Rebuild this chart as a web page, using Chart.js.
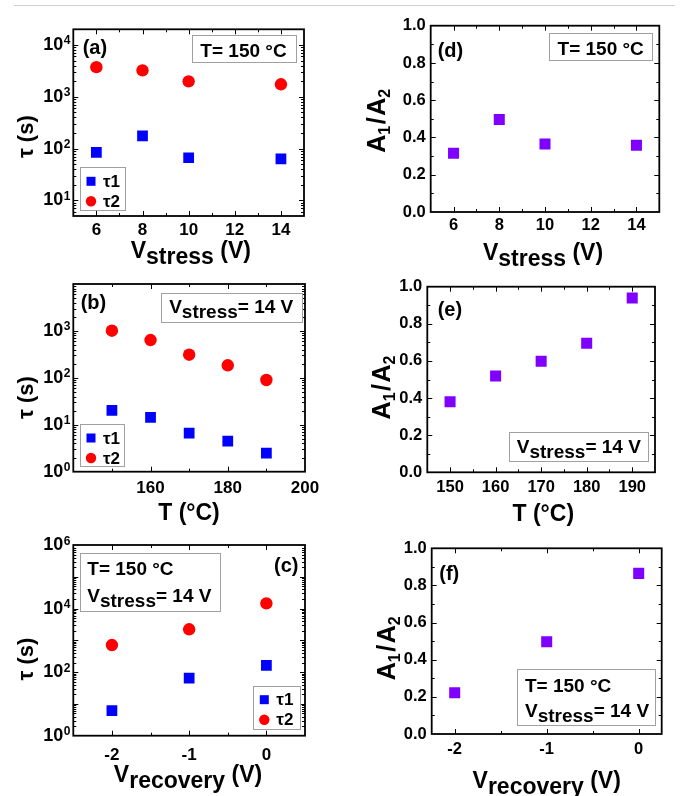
<!DOCTYPE html>
<html>
<head>
<meta charset="utf-8">
<script src="https://cdn.jsdelivr.net/npm/chart.js@4.4.1/dist/chart.umd.min.js"></script>
<style>
html,body{margin:0;padding:0;background:#fff;}
#wrap{position:relative;width:681px;height:796px;overflow:hidden;background:#fff;}
#wrap canvas{position:absolute;left:0;top:0;}
#rule{position:absolute;left:14px;top:5px;width:661px;height:0;border-top:1.5px solid #cfcfcf;}
</style>
</head>
<body>
<div id="wrap">
<div id="rule"></div>
<canvas id="pa" width="681" height="796"></canvas>
<canvas id="pb" width="681" height="796"></canvas>
<canvas id="pc" width="681" height="796"></canvas>
<canvas id="pd" width="681" height="796"></canvas>
<canvas id="pe" width="681" height="796"></canvas>
<canvas id="pf" width="681" height="796"></canvas>
</div>
<script>
// ---------- data ----------
const vStress = [6, 8, 10, 14];
const tau1VsStress = [84, 175, 66.5, 63];
const tau2VsStress = [3720, 3220, 1980, 1740];
const ratioVsStress = [0.315, 0.497, 0.365, 0.358];

const tempC = [150, 160, 170, 180, 190];
const tau1VsTemp = [20.3, 14.4, 6.6, 4.5, 2.5];
const tau2VsTemp = [1010, 640, 311, 185, 90];
const ratioVsTemp = [0.38, 0.519, 0.598, 0.695, 0.939];

const vRecovery = [-2, -1, 0];
const tau1VsRec = [6.1, 65, 164];
const tau2VsRec = [713, 2225, 14600];
const ratioVsRec = [0.222, 0.497, 0.865];

// ---------- tick labels ----------
const stressTicks = [6, 8, 10, 12, 14];
const tempTicksTau = [160, 180, 200];
const tempTicksRatio = [150, 160, 170, 180, 190];
const recTicks = [-2, -1, 0];
const ratioTicks = [0, 0.2, 0.4, 0.6, 0.8, 1.0];
const tauTicksA = [10, 100, 1000, 10000];
const tauTicksB = [1, 10, 100, 1000];
const tauTicksC = [1, 100, 10000, 1000000];

const seriesLabels = ['τ1', 'τ2'];

// ---------- style ----------
const FONT = "'Liberation Sans', Arial, Helvetica, sans-serif";
const BLUE = '#0000ff', RED = '#ff0000', PURPLE = '#8000ff';
const W = 681, H = 796, YW = 45, XH = 30;

function steps(a, b, s) { const r = []; for (let v = a; v <= b + 1e-9; v += s) r.push(+v.toFixed(6)); return r; }
function logMajors(lo, hi) { const r = []; for (let e = lo; e <= hi; e++) r.push(Math.pow(10, e)); return r; }
function logMinors(lo, hi) { const r = []; for (let e = lo; e < hi; e++) for (let m = 2; m <= 9; m++) r.push(m * Math.pow(10, e)); return r; }
function pts(xs, ys) { return xs.map((x, i) => ({ x, y: ys[i] })); }

function rich(ctx, parts, x, y, align) {
  let w = 0;
  const m = parts.map(p => { ctx.font = 'bold ' + p[1] + 'px ' + FONT; const pw = ctx.measureText(p[0]).width; const g = p[3] || 0; w += pw + g; return { pw, g }; });
  let cx = align === 'center' ? x - w / 2 : x;
  ctx.textAlign = 'left'; ctx.textBaseline = 'alphabetic'; ctx.fillStyle = '#000';
  parts.forEach((p, i) => { cx += m[i].g; ctx.font = 'bold ' + p[1] + 'px ' + FONT; ctx.fillText(p[0], cx, y + (p[2] || 0)); cx += m[i].pw; });
}

function makeDeco(o) {
  return {
    id: 'deco',
    beforeDatasetsDraw(chart) {
      const ctx = chart.ctx, a = chart.chartArea, xs = chart.scales.x, ys = chart.scales.y;
      ctx.save();
      ctx.strokeStyle = '#000'; ctx.lineWidth = 1;
      ctx.beginPath();
      const xt = (vals, len) => vals.forEach(v => {
        const p = Math.round(xs.getPixelForValue(v)) + 0.5;
        if (p <= a.left + 1.5 || p >= a.right - 1.5) return;
        ctx.moveTo(p, a.bottom); ctx.lineTo(p, a.bottom - len);
        ctx.moveTo(p, a.top); ctx.lineTo(p, a.top + len);
      });
      const yt = (vals, len) => vals.forEach(v => {
        const p = Math.round(ys.getPixelForValue(v)) + 0.5;
        if (p <= a.top + 1.5 || p >= a.bottom - 1.5) return;
        ctx.moveTo(a.left, p); ctx.lineTo(a.left + len, p);
        ctx.moveTo(a.right, p); ctx.lineTo(a.right - len, p);
      });
      xt(o.ticks.xMajor, 5); xt(o.ticks.xMinor, 3);
      yt(o.ticks.yMajor, 5); yt(o.ticks.yMinor, 3);
      ctx.stroke();
      ctx.lineWidth = 1.8;
      ctx.strokeRect(a.left, a.top, a.right - a.left, a.bottom - a.top);
      ctx.restore();
    },
    afterDraw(chart) {
      const ctx = chart.ctx, a = chart.chartArea, ys = chart.scales.y;
      ctx.save();
      if (o.logY) {
        ctx.font = 'bold 12px ' + FONT; ctx.fillStyle = '#000';
        ctx.textAlign = 'left'; ctx.textBaseline = 'alphabetic';
        ys.ticks.forEach(t => {
          const y = ys.getPixelForValue(t.value);
          ctx.fillText(String(Math.round(Math.log10(t.value))), a.left - 9.5, y - 0.5);
        });
      }
      rich(ctx, o.xTitle.parts, o.xTitle.cx, o.xTitle.by, 'center');
      ctx.save();
      ctx.translate(o.yTitle.bx, o.yTitle.cy);
      ctx.rotate(-Math.PI / 2);
      rich(ctx, o.yTitle.parts, 0, 0, 'center');
      ctx.restore();
      ctx.font = 'bold 20px ' + FONT; ctx.fillStyle = '#000';
      ctx.textAlign = 'left'; ctx.textBaseline = 'middle';
      ctx.fillText(o.tag.text, o.tag.x, o.tag.y);
      o.boxes.forEach(b => {
        ctx.fillStyle = '#fff';
        ctx.fillRect(b.rect[0], b.rect[1], b.rect[2], b.rect[3]);
        ctx.strokeStyle = '#a0a0a0'; ctx.lineWidth = 1;
        ctx.strokeRect(Math.round(b.rect[0]) + 0.5, Math.round(b.rect[1]) + 0.5, Math.round(b.rect[2]), Math.round(b.rect[3]));
        b.lines.forEach(l => rich(ctx, l.parts, l.x, l.y, l.align));
      });
      if (o.legend) {
        const r = o.legend.rect;
        ctx.fillStyle = '#fff'; ctx.fillRect(r[0], r[1], r[2], r[3]);
        ctx.strokeStyle = '#a0a0a0'; ctx.lineWidth = 1;
        ctx.strokeRect(Math.round(r[0]) + 0.5, Math.round(r[1]) + 0.5, Math.round(r[2]), Math.round(r[3]));
        chart.data.datasets.forEach((ds, i) => {
          const y = r[1] + 14 + i * 20, x = r[0] + 11;
          ctx.fillStyle = ds.backgroundColor;
          if (ds.pointStyle === 'rect') ctx.fillRect(x - 4.5, y - 4.5, 9, 9);
          else { ctx.beginPath(); ctx.arc(x, y, 5.2, 0, Math.PI * 2); ctx.fill(); }
          ctx.fillStyle = '#000'; ctx.font = 'bold 17px ' + FONT;
          ctx.textAlign = 'left'; ctx.textBaseline = 'middle';
          ctx.fillText(ds.label, r[0] + 23, y + 1);
        });
      }
      ctx.restore();
    }
  };
}

function panel(id, o) {
  const [L, R, T, B] = o.area;
  return new Chart(document.getElementById(id), {
    type: 'scatter',
    data: { datasets: o.datasets },
    options: {
      responsive: false, maintainAspectRatio: false, animation: false, events: [],
      layout: { padding: { left: L - YW, right: W - R, top: T, bottom: H - B - XH } },
      plugins: { legend: { display: false }, tooltip: { enabled: false }, title: { display: false } },
      scales: {
        x: {
          type: 'linear', position: 'bottom', min: o.x.min, max: o.x.max,
          grid: { display: false, drawTicks: false }, border: { display: false },
          ticks: { autoSkip: false, maxRotation: 0, minRotation: 0, padding: o.x.pad, color: '#000',
                   font: { family: FONT, size: o.x.size, weight: 'bold' }, callback: v => String(v) },
          afterBuildTicks: s => { s.ticks = o.x.labels.map(v => ({ value: v })); },
          afterFit: s => { s.height = XH; }
        },
        y: {
          type: o.y.type, position: 'left', min: o.y.min, max: o.y.max,
          grid: { display: false, drawTicks: false }, border: { display: false },
          ticks: { autoSkip: false, padding: o.y.pad, color: '#000',
                   font: { family: FONT, size: o.y.size, weight: 'bold' }, callback: o.y.fmt },
          afterBuildTicks: s => { s.ticks = o.y.labels.map(v => ({ value: v })); },
          afterFit: s => { s.width = YW; }
        }
      }
    },
    plugins: [makeDeco(o.deco)]
  });
}

const tauDatasets = (xs, t1, t2) => [
  { label: seriesLabels[0], data: pts(xs, t1), pointStyle: 'rect', pointRadius: 7.6, backgroundColor: BLUE, borderWidth: 0 },
  { label: seriesLabels[1], data: pts(xs, t2), pointStyle: 'circle', pointRadius: 6.2, backgroundColor: RED, borderWidth: 0 }
];
const ratioDataset = (xs, r) => [
  { label: 'A1/A2', data: pts(xs, r), pointStyle: 'rect', pointRadius: 7.8, backgroundColor: PURPLE, borderWidth: 0 }
];

const logFmt = () => '10';
const ratioFmt = v => Number(v).toFixed(1);

const vStressTitle = [['V', 23], ['stress', 23, 6], [' (V)', 23]];
const vRecTitle = [['V', 23], ['recovery', 23, 6], [' (V)', 23]];
const tempTitle = [['T (°C)', 23]];
const tauTitle = [['τ (s)', 22]];
const ratioTitle = [['A', 25], ['1', 16, 5], ['/', 25, 0, 1.5], ['A', 25, 0, 1.5], ['2', 16, 5]];
const tLine = [['T= 150 °C', 19]];
const vLine = [['V', 19], ['stress', 19, 5], ['= 14 V', 19]];

// (a)
panel('pa', {
  area: [73.3, 304, 29.3, 216],
  datasets: tauDatasets(vStress, tau1VsStress, tau2VsStress),
  x: { min: 5, max: 15, labels: stressTicks, pad: 4, size: 17 },
  y: { type: 'logarithmic', min: 5, max: 20000, labels: tauTicksA, pad: 10, size: 18, fmt: logFmt },
  deco: {
    logY: true,
    ticks: { xMajor: stressTicks, xMinor: steps(5, 15, 1), yMajor: logMajors(1, 4), yMinor: logMinors(0, 4).filter(v => v > 5 && v < 20000) },
    xTitle: { parts: vStressTitle, cx: 190.8, by: 258.3 },
    yTitle: { parts: tauTitle, bx: 33, cy: 136.7 },
    tag: { text: '(a)', x: 82.7, y: 48.3 },
    boxes: [{ rect: [191.7, 35, 103.6, 26.7], lines: [{ parts: tLine, x: 243.5, y: 56.7, align: 'center' }] }],
    legend: { rect: [80, 167.3, 44.7, 43.4] }
  }
});

// (b)
panel('pb', {
  area: [73.3, 305, 284, 471.7],
  datasets: tauDatasets(tempC, tau1VsTemp, tau2VsTemp),
  x: { min: 140, max: 200, labels: tempTicksTau, pad: 6, size: 17 },
  y: { type: 'logarithmic', min: 1, max: 10000, labels: tauTicksB, pad: 10, size: 18, fmt: logFmt },
  deco: {
    logY: true,
    ticks: { xMajor: steps(140, 200, 20), xMinor: steps(150, 190, 20), yMajor: logMajors(0, 4), yMinor: logMinors(0, 4) },
    xTitle: { parts: tempTitle, cx: 189, by: 520 },
    yTitle: { parts: tauTitle, bx: 33, cy: 397.5 },
    tag: { text: '(b)', x: 80.7, y: 303.3 },
    boxes: [{ rect: [160.7, 292.7, 141, 29], lines: [{ parts: vLine, x: 231.2, y: 313.3, align: 'center' }] }],
    legend: { rect: [80, 424, 44.3, 42] }
  }
});

// (c)
panel('pc', {
  area: [73.3, 305, 545, 735.7],
  datasets: tauDatasets(vRecovery, tau1VsRec, tau2VsRec),
  x: { min: -2.5, max: 0.5, labels: recTicks, pad: 9, size: 17 },
  y: { type: 'logarithmic', min: 1, max: 1000000, labels: tauTicksC, pad: 10, size: 18, fmt: logFmt },
  deco: {
    logY: true,
    ticks: { xMajor: recTicks, xMinor: steps(-2.5, 0.5, 0.5), yMajor: logMajors(0, 6), yMinor: logMinors(0, 6) },
    xTitle: { parts: vRecTitle, cx: 188, by: 781.5 },
    yTitle: { parts: tauTitle, bx: 33, cy: 659 },
    tag: { text: '(c)', x: 274, y: 566.7 },
    boxes: [{ rect: [80, 553.3, 140, 57.7], lines: [
      { parts: tLine, x: 87.3, y: 575, align: 'left' },
      { parts: vLine, x: 87.3, y: 601.7, align: 'left' }] }],
    legend: { rect: [253.3, 685.7, 46.7, 42.6] }
  }
});

// (d)
panel('pd', {
  area: [430.7, 659.3, 25.7, 212],
  datasets: ratioDataset(vStress, ratioVsStress),
  x: { min: 5, max: 15, labels: stressTicks, pad: 4, size: 16.5 },
  y: { type: 'linear', min: 0, max: 1, labels: ratioTicks, pad: 5, size: 16.5, fmt: ratioFmt },
  deco: {
    logY: false,
    ticks: { xMajor: stressTicks, xMinor: steps(5, 15, 1), yMajor: ratioTicks, yMinor: steps(0.1, 0.9, 0.2) },
    xTitle: { parts: vStressTitle, cx: 543, by: 259.5 },
    yTitle: { parts: ratioTitle, bx: 385, cy: 120.8 },
    tag: { text: '(d)', x: 437.7, y: 51.7 },
    boxes: [{ rect: [549.3, 33.3, 102.7, 27.4], lines: [{ parts: tLine, x: 600.7, y: 55, align: 'center' }] }]
  }
});

// (e)
panel('pe', {
  area: [427.3, 655, 286.7, 472.3],
  datasets: ratioDataset(tempC, ratioVsTemp),
  x: { min: 145, max: 195, labels: tempTicksRatio, pad: 5, size: 16.5 },
  y: { type: 'linear', min: 0, max: 1, labels: ratioTicks, pad: 5, size: 16.5, fmt: ratioFmt },
  deco: {
    logY: false,
    ticks: { xMajor: tempTicksRatio, xMinor: steps(145, 195, 10), yMajor: ratioTicks, yMinor: steps(0.1, 0.9, 0.2) },
    xTitle: { parts: tempTitle, cx: 543.3, by: 520.5 },
    yTitle: { parts: ratioTitle, bx: 390, cy: 387.5 },
    tag: { text: '(e)', x: 437.7, y: 310 },
    boxes: [{ rect: [509.3, 432.3, 139, 29.4], lines: [{ parts: vLine, x: 578.8, y: 452.7, align: 'center' }] }]
  }
});

// (f)
panel('pf', {
  area: [431.7, 661.7, 548.3, 734],
  datasets: ratioDataset(vRecovery, ratioVsRec),
  x: { min: -2.25, max: 0.25, labels: recTicks, pad: 6, size: 16.5 },
  y: { type: 'linear', min: 0, max: 1, labels: ratioTicks, pad: 5, size: 16.5, fmt: ratioFmt },
  deco: {
    logY: false,
    ticks: { xMajor: recTicks, xMinor: [-1.5, -0.5], yMajor: ratioTicks, yMinor: steps(0.1, 0.9, 0.2) },
    xTitle: { parts: vRecTitle, cx: 546.7, by: 788 },
    yTitle: { parts: ratioTitle, bx: 395, cy: 648.3 },
    tag: { text: '(f)', x: 439.3, y: 574 },
    boxes: [{ rect: [516.7, 669.3, 137.6, 55.7], lines: [
      { parts: tLine, x: 525, y: 691.7, align: 'left' },
      { parts: vLine, x: 525, y: 716.7, align: 'left' }] }]
  }
});
</script>
</body>
</html>
